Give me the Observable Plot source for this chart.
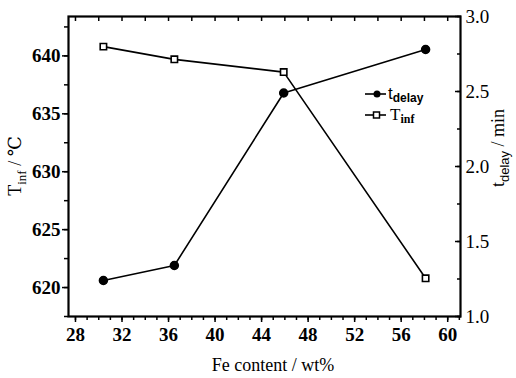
<!DOCTYPE html>
<html>
<head>
<meta charset="utf-8">
<script src="https://cdn.jsdelivr.net/npm/d3@7"></script>
<script src="https://cdn.jsdelivr.net/npm/@observablehq/plot@0.6"></script>
<style>
  html, body { margin: 0; padding: 0; background: white; }
</style>
</head>
<body>
<div id="chart"></div>
<script>
// Data
const feContent = [30.4, 36.5, 45.9, 58.1];          // Fe content / wt%
const tInf      = [640.8, 639.7, 638.6, 620.8];      // T_inf / °C (left axis)
const tDelay    = [1.24, 1.34, 2.49, 2.78];          // t_delay / min (right axis)
const xTicks    = [28, 32, 36, 40, 44, 48, 52, 56, 60];
const leftTicks = [620, 625, 630, 635, 640];
const rightTicks = [1.0, 1.5, 2.0, 2.5, 3.0];

const xDomain = [27.4, 61.1];
const yDomain = [617.5, 643.4];
const rDomain = [1.0, 3.0];

const data = feContent.map((x, i) => ({x, tInf: tInf[i], tDelay: tDelay[i]}));
const toLeft = d3.scaleLinear().domain(rDomain).range(yDomain);

const serif = "'Liberation Serif', 'DejaVu Serif', serif";

const chart = Plot.plot({
  width: 516,
  height: 378,
  marginLeft: 68,
  marginRight: 56,
  marginTop: 16,
  marginBottom: 62,
  style: {fontFamily: serif, fontSize: "19px", background: "white", color: "black", overflow: "visible"},
  x: {domain: xDomain},
  y: {domain: yDomain},
  marks: [
    // minor ticks
    Plot.axisX({ticks: d3.range(28, 62, 1), tickSize: 4, tickFormat: () => "", label: null, strokeWidth: 1.5}),
    Plot.axisX({anchor: "top", ticks: d3.range(28, 62, 2), tickSize: -4, tickFormat: () => "", label: null, strokeWidth: 1.5}),
    Plot.axisY({ticks: d3.range(617.5, 643.5, 2.5), tickSize: 4, tickFormat: () => "", label: null, strokeWidth: 1.5}),
    Plot.axisY({anchor: "right", ticks: d3.range(1.0, 3.01, 0.25).map(toLeft), tickSize: -4, tickFormat: () => "", label: null, strokeWidth: 1.5}),
    // major ticks + labels
    Plot.axisX({ticks: xTicks, tickSize: 6, tickPadding: 5, label: null, strokeWidth: 1.5, fontWeight: "bold"}),
    Plot.axisY({ticks: leftTicks, tickSize: 6, tickPadding: 2, label: null, strokeWidth: 1.5, fontWeight: "bold"}),
    Plot.axisY({anchor: "right", ticks: rightTicks.map(toLeft), tickSize: -6, tickPadding: 11,
                tickFormat: d => toLeft.invert(d).toFixed(1), label: null, strokeWidth: 1.5}),
    Plot.frame({stroke: "black", strokeWidth: 2.2}),
    // series
    Plot.line(data, {x: "x", y: "tInf", stroke: "black", strokeWidth: 1.6}),
    Plot.line(data, {x: "x", y: d => toLeft(d.tDelay), stroke: "black", strokeWidth: 1.6}),
    Plot.dot(data, {x: "x", y: d => toLeft(d.tDelay), r: 4, fill: "black", stroke: "black"}),
    Plot.dot(data, {x: "x", y: "tInf", symbol: "square", r: 3.6, fill: "white", stroke: "black", strokeWidth: 1.6})
  ]
});

document.getElementById("chart").appendChild(chart);

const svg = d3.select(chart);

// Axis titles
svg.append("text")
  .attr("x", 273).attr("y", 371)
  .attr("text-anchor", "middle")
  .attr("font-family", serif).attr("font-size", 18)
  .text("Fe content / wt%");

const lt = svg.append("text")
  .attr("transform", "translate(21,166) rotate(-90)")
  .attr("text-anchor", "middle")
  .attr("font-family", serif).attr("font-size", 18);
lt.append("tspan").text("T");
lt.append("tspan").attr("font-size", 13).attr("dy", 5).text("inf");
lt.append("tspan").attr("dy", -5).text(" / ℃");

const rt = svg.append("text")
  .attr("transform", "translate(504,148) rotate(-90)")
  .attr("text-anchor", "middle")
  .attr("font-family", serif).attr("font-size", 18);
rt.append("tspan").text("t");
rt.append("tspan").attr("font-size", 13).attr("font-family", "'Liberation Sans', sans-serif").attr("dy", 5).text("delay");
rt.append("tspan").attr("dy", -5).text(" / min");

// Legend
const lg = svg.append("g");
const legendItems = [
  {y: 94, main: "t", sub: "delay", symbol: "circle", font: "'Liberation Sans', sans-serif", tx: 388},
  {y: 115, main: "T", sub: "inf", symbol: "square", font: serif, tx: 390}
];
legendItems.forEach(it => {
  lg.append("line").attr("x1", 365).attr("x2", 386).attr("y1", it.y).attr("y2", it.y)
    .attr("stroke", "black").attr("stroke-width", 1.6);
  if (it.symbol === "circle") {
    lg.append("circle").attr("cx", 377).attr("cy", it.y).attr("r", 3.5).attr("fill", "black");
  } else {
    lg.append("rect").attr("x", 373.5).attr("y", it.y - 3).attr("width", 6).attr("height", 6)
      .attr("fill", "white").attr("stroke", "black").attr("stroke-width", 1.5);
  }
  const t = lg.append("text").attr("x", it.tx).attr("y", it.y + 5)
    .attr("text-anchor", "start")
    .attr("font-family", it.font).attr("font-size", 17);
  t.append("tspan").text(it.main);
  t.append("tspan").attr("font-size", 12).attr("font-weight", "bold").attr("dy", 3).text(it.sub);
});
</script>
</body>
</html>
